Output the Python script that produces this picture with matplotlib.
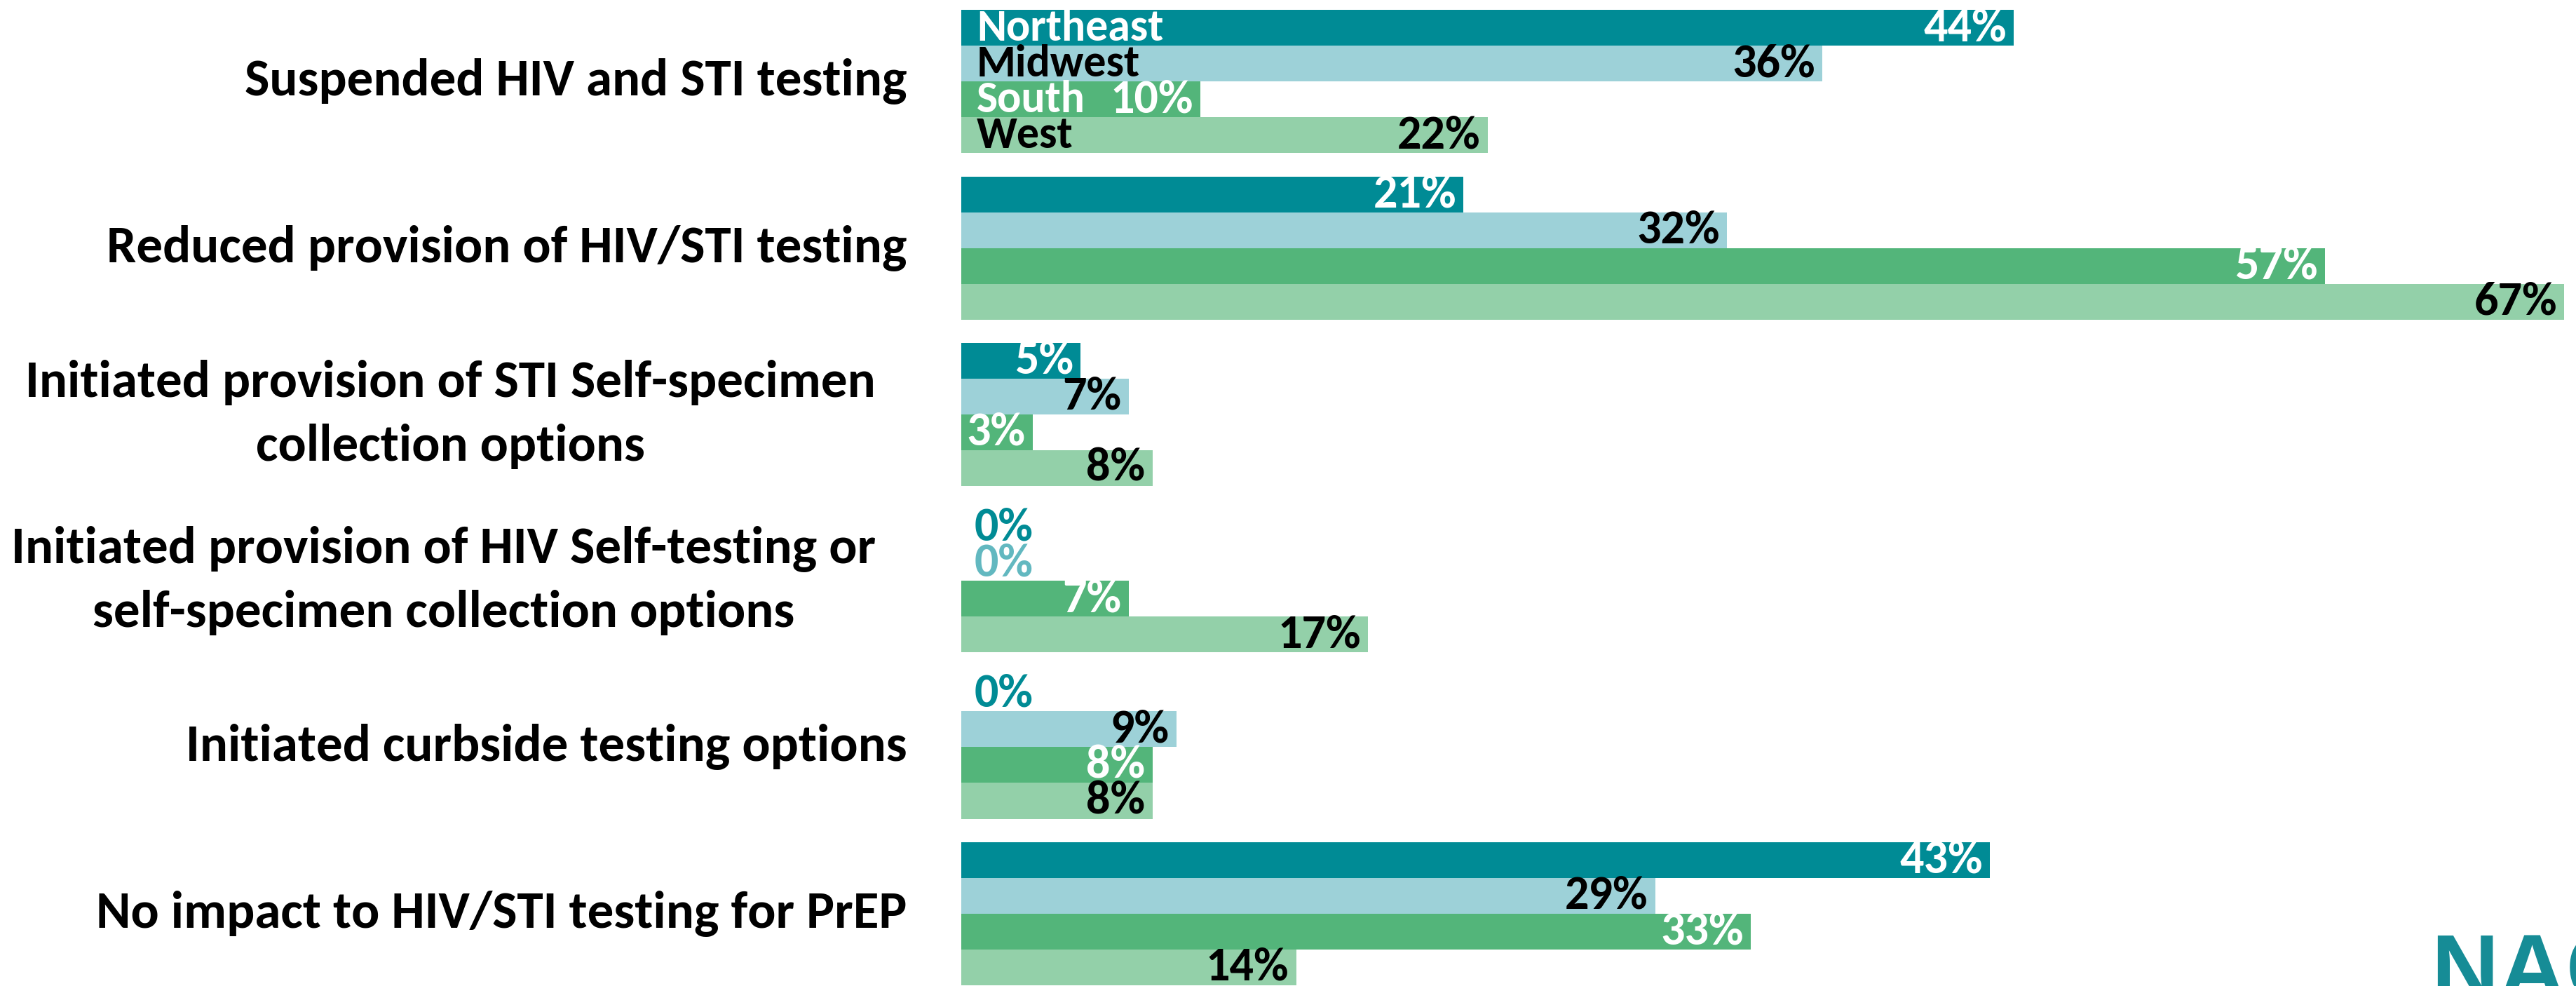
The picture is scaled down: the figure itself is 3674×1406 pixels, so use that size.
import numpy as np
import matplotlib.pyplot as plt

plt.rcParams['font.family'] = ['Carlito', 'Fira Sans Condensed', 'DejaVu Sans']
plt.rcParams['font.weight'] = 'bold'

categories = ['Suspended HIV and STI testing',
              'Reduced provision of HIV/STI testing',
              'Initiated provision of STI Self-specimen\ncollection options',
              'Initiated provision of HIV Self-testing or\nself-specimen collection options',
              'Initiated curbside testing options',
              'No impact to HIV/STI testing for PrEP']
regions = ['Northeast', 'Midwest', 'South', 'West']
northeast = [44, 21, 5, 0, 0, 43]
midwest = [36, 32, 7, 0, 9, 29]
south = [10, 57, 3, 7, 8, 33]
west = [22, 67, 8, 17, 8, 14]

series = [northeast, midwest, south, west]
colors = ['#008B95', '#9DD1D8', '#53B57A', '#93D0A9']
text_colors = ['white', 'black', 'white', 'black']
zero_colors = ['#008B95', '#62B8C0', '#53B57A', '#93D0A9']

fs_cat = 54
fs_val = 49
fs_reg = 46
fig = plt.figure(figsize=(36.74, 14.06), dpi=100)
ax = fig.add_axes([0.3731, 0.0, 0.6224, 1.0])

h = 0.215
y = np.arange(len(categories))
for i, vals in enumerate(series):
    pos = y - 1.5 * h + i * h
    ax.barh(pos, vals, height=h, color=colors[i], linewidth=0)
    for p, v in zip(pos, vals):
        if v == 0:
            ax.text(0.55, p, '0%', ha='left', va='center', fontsize=fs_val,
                    color=zero_colors[i], fontweight='bold')
        else:
            ax.text(v - 0.3, p, f'{v}%', ha='right', va='center', fontsize=fs_val,
                    color=text_colors[i], fontweight='bold')
    # region names inside first group
    ax.text(0.65, pos[0], regions[i], ha='left', va='center', fontsize=fs_reg,
            color=text_colors[i], fontweight='bold')

ax.set_xlim(0, 67)
ax.set_ylim(5.435, -0.49)
ax.axis('off')

# category labels
for yi, cat in zip(y, categories):
    x_fig = 0.340 if '\n' in cat else 0.352
    yf = ax.transData.transform((0, yi))
    yf = fig.transFigure.inverted().transform(yf)[1]
    fig.text(x_fig, yf, cat, ha='right', va='center', multialignment='center',
             fontsize=fs_cat, fontweight='bold', linespacing=1.48, color='black')

# logo fragment, cut off at corner
fig.text(0.9437, -0.014, 'NACCHO', ha='left', va='baseline', fontsize=96,
         fontweight='bold', color='#168C96', family=['Liberation Sans', 'DejaVu Sans'])

fig.savefig('out.png', dpi=100)
